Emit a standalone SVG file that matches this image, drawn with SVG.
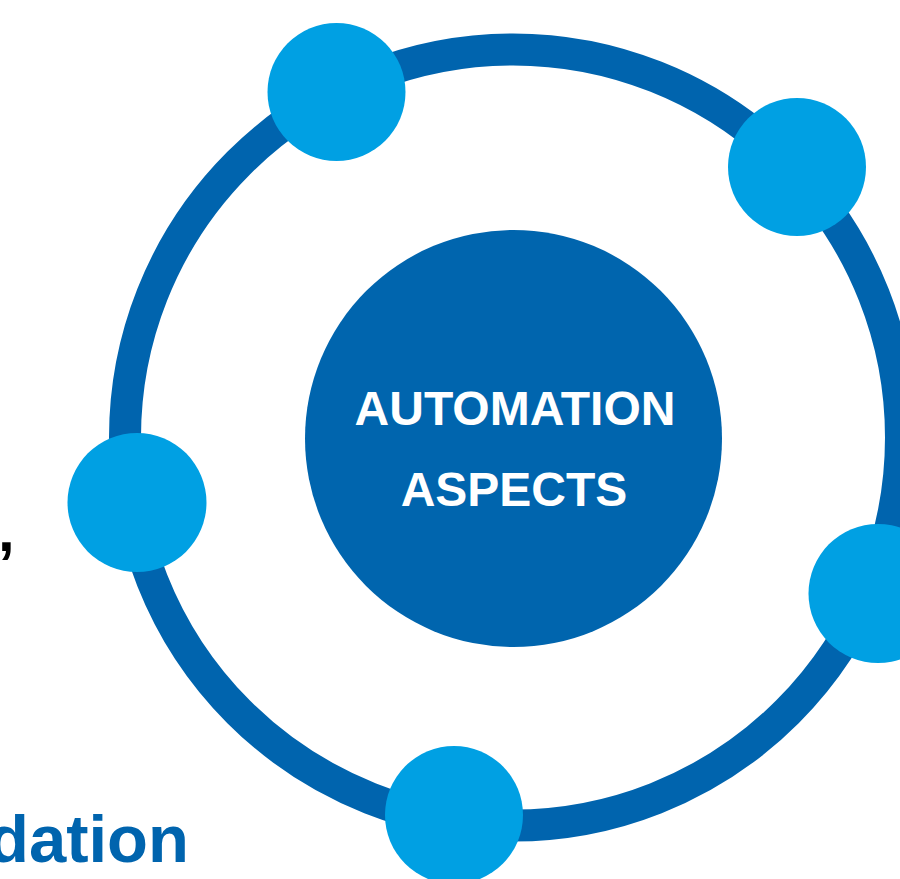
<svg xmlns="http://www.w3.org/2000/svg" width="900" height="879" viewBox="0 0 900 879">
  <style>
    .ring { fill: none; stroke: #0064AE; stroke-width: 32; }
    .hub { fill: #0065AE; }
    .node { fill: #00A0E3; }
    .hub-label { font-family: "Liberation Sans", Arial, sans-serif; font-weight: bold; font-size: 48px; fill: #FFFFFF; text-anchor: middle; }
    .side-text { font-family: "Liberation Sans", Arial, sans-serif; font-weight: bold; }
  </style>
  <rect width="900" height="879" fill="#FFFFFF"/>

  <!-- partial text running in from the left edge -->
  <text class="side-text" x="-2" y="551" font-size="60" fill="#000000">,</text>
  <text class="side-text" x="-12" y="862" font-size="67" fill="#0064AE">dation</text>

  <!-- orbit ring -->
  <g id="connectors">
    <circle class="ring" cx="513" cy="437.5" r="388"/>
  </g>

  <!-- central hub -->
  <g id="hub">
    <circle class="hub" cx="513.5" cy="438.5" r="208.5"/>
    <text class="hub-label" x="515" y="425">AUTOMATION</text>
    <text class="hub-label" x="514" y="506">ASPECTS</text>
  </g>

  <!-- satellite nodes on the ring -->
  <g id="node-top-left"><circle class="node" cx="336.5" cy="92" r="69"/></g>
  <g id="node-top-right"><circle class="node" cx="797" cy="167" r="69"/></g>
  <g id="node-left"><circle class="node" cx="137" cy="502.5" r="69.5"/></g>
  <g id="node-right"><circle class="node" cx="878" cy="593.5" r="69.5"/></g>
  <g id="node-bottom"><circle class="node" cx="454" cy="815" r="69"/></g>
</svg>
